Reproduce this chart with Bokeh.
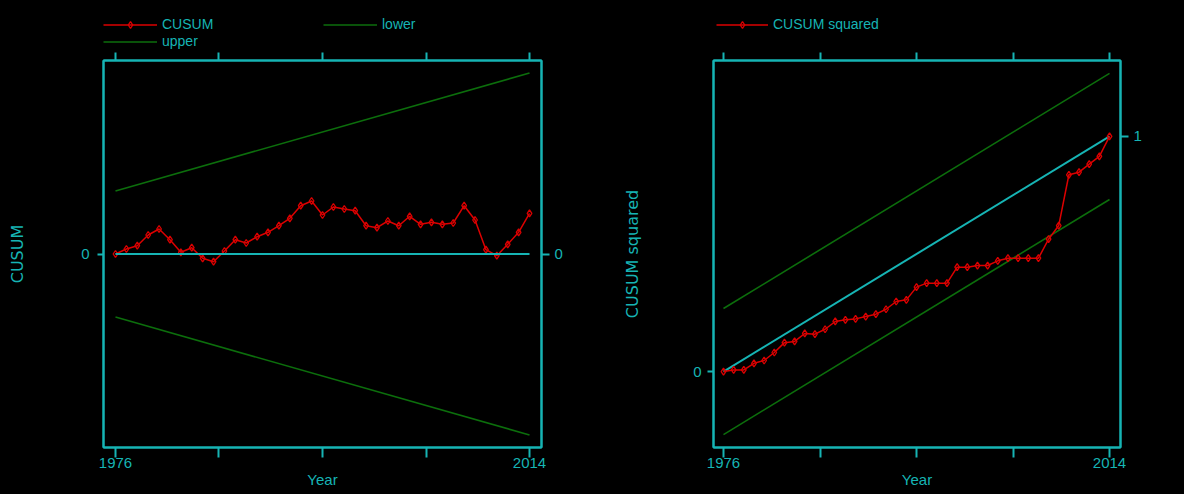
from bokeh.plotting import figure
from bokeh.models import Range1d, LinearAxis, FixedTicker, Legend, LegendItem
from bokeh.layouts import row, column
from bokeh.embed import file_html
from bokeh.resources import INLINE
from bokeh.core.properties import value

# ---------------- data ----------------
years = list(range(1976, 2015))
cusum = [0, 0.5, 0.83, 1.9, 2.5, 1.43, 0.17, 0.63, -0.43, -0.77, 0.3, 1.43, 1.1,
         1.73, 2.17, 2.83, 3.57, 4.83, 5.3, 3.9, 4.7, 4.5, 4.33, 2.83, 2.63, 3.3,
         2.83, 3.77, 2.97, 3.17, 2.97, 3.1, 4.83, 3.4, 0.43, -0.17, 0.97, 2.17, 4.07]
cusum_sq = [0, 0.007, 0.007, 0.035, 0.047, 0.081, 0.123, 0.128, 0.162, 0.159, 0.180,
            0.213, 0.220, 0.224, 0.234, 0.244, 0.265, 0.298, 0.305, 0.359, 0.376,
            0.376, 0.376, 0.444, 0.444, 0.451, 0.451, 0.471, 0.482, 0.482, 0.482,
            0.482, 0.563, 0.621, 0.837, 0.848, 0.882, 0.915, 1.0]
bound_years = [1976, 2014]
cusum_upper = [6.3, 18.1]
cusum_lower = [-6.3, -18.1]
cusum_zero = [0, 0]
sq_expected = [0, 1]
sq_upper = [0.268, 1.268]
sq_lower = [-0.268, 0.732]
x_labeled = [1976, 2014]
x_unlabeled = [1985.5, 1995, 2004.5]
x_all = [1976, 1985.5, 1995, 2004.5, 2014]

CYAN = "#16b4b4"
RED = "#dc0000"
GREEN = "#0c6e0c"
FONT = "Liberation Sans"
WIDE = "DejaVu Sans"
FH = 387
LEG_H = 50
TOP = 10
BOTTOM = 47
W1, W2 = 600, 584


def style_axis(ax, ticks, minor, tick_out, standoff):
    ax.ticker = FixedTicker(ticks=ticks, minor_ticks=minor)
    ax.axis_line_color = CYAN
    ax.axis_line_width = 2
    ax.major_tick_line_color = CYAN
    ax.major_tick_line_width = 2
    ax.major_tick_in = 0
    ax.major_tick_out = tick_out
    ax.minor_tick_line_color = CYAN
    ax.minor_tick_line_width = 2
    ax.minor_tick_in = 0
    ax.minor_tick_out = tick_out
    ax.major_label_text_color = CYAN
    ax.major_label_text_font = FONT
    ax.major_label_text_font_size = "15px"
    ax.major_label_standoff = standoff
    ax.axis_label_text_color = CYAN
    ax.axis_label_text_font_style = "normal"


def make_fig(fw, xr, yr, ml, mr):
    p = figure(frame_width=fw, frame_height=FH, x_range=Range1d(*xr), y_range=Range1d(*yr),
               output_backend="svg", toolbar_location=None,
               background_fill_color="black", border_fill_color="black",
               min_border_left=ml, min_border_right=mr, min_border_top=TOP,
               min_border_bottom=BOTTOM, outline_line_color=CYAN, outline_line_width=2)
    p.xgrid.grid_line_color = None
    p.ygrid.grid_line_color = None
    return p


def legend_fig(w):
    # a strip above each panel that only holds the legend; its ranges lie
    # outside the data, so the series drawn here only serve as legend keys
    f = figure(frame_width=w, frame_height=LEG_H, x_range=Range1d(0, 1), y_range=Range1d(0, 1),
               output_backend="svg", toolbar_location=None,
               x_axis_location=None, y_axis_location=None,
               background_fill_color="black", border_fill_color="black",
               min_border=0, outline_line_color=None)
    f.grid.grid_line_color = None
    return f


def make_legend(items, x, top_from_fig_top, glyph_w):
    n = len(items)
    return Legend(items=items, location=(x, LEG_H - top_from_fig_top - 17 * n),
                  orientation="vertical",
                  glyph_width=glyph_w, glyph_height=17, label_height=17, label_standoff=5,
                  padding=0, spacing=0, margin=0, border_line_color=None,
                  background_fill_alpha=0, label_text_color=CYAN,
                  label_text_font=FONT, label_text_font_size="14px",
                  label_text_baseline="middle")


def axes_xy(p):
    ax = p.xaxis[0]
    style_axis(ax, x_labeled, x_unlabeled, 10, 0)
    ax.axis_label = "Year"
    ax.axis_label_text_font = FONT
    ax.axis_label_text_font_size = "15px"
    ax.axis_label_standoff = 0
    top = LinearAxis()
    style_axis(top, [], x_all, 8, 0)
    p.add_layout(top, "above")


# ---------------- left panel: CUSUM ----------------
p1 = make_fig(438, (1974.9, 2015.1), (-19.35, 19.35), 103, 59)
p1.line(years, cusum, line_color=RED, line_width=1.5)
p1.scatter(years, cusum, marker="diamond", size=7, line_color=RED,
           fill_color=None, line_width=1.3)
p1.line(bound_years, cusum_lower, line_color=GREEN, line_width=1.6)
p1.line(bound_years, cusum_upper, line_color=GREEN, line_width=1.6)
p1.line(bound_years, cusum_zero, line_color=CYAN, line_width=2)

axes_xy(p1)
style_axis(p1.yaxis[0], [0], [], 6, 8)
p1.yaxis[0].axis_label = "CUSUM"
p1.yaxis[0].axis_label_text_font = WIDE
p1.yaxis[0].axis_label_text_font_size = "16px"
p1.yaxis[0].axis_label_standoff = 51
right1 = LinearAxis()
style_axis(right1, [0], [], 8, 5)
p1.add_layout(right1, "right")

lf1 = legend_fig(W1)
k_cu = lf1.line(years, cusum, line_color=RED, line_width=1.5)
k_cus = lf1.scatter(years, cusum, marker="diamond", size=7, line_color=RED,
                    fill_color=None, line_width=1.3)
k_low = lf1.line(bound_years, cusum_lower, line_color=GREEN, line_width=1.6)
k_up = lf1.line(bound_years, cusum_upper, line_color=GREEN, line_width=1.6)
lf1.add_layout(make_legend([LegendItem(label=value("CUSUM"), renderers=[k_cu, k_cus]),
                            LegendItem(label=value("upper"), renderers=[k_up])], 103, 15.5, 54))
lf1.add_layout(make_legend([LegendItem(label=value("lower"), renderers=[k_low])], 323, 15.5, 54))

# ---------------- right panel: CUSUM squared ----------------
p2 = make_fig(407, (1975.016, 2015.08), (-0.323, 1.323), 113, 64)
p2.line(bound_years, sq_upper, line_color=GREEN, line_width=1.6)
p2.line(bound_years, sq_lower, line_color=GREEN, line_width=1.6)
p2.line(bound_years, sq_expected, line_color=CYAN, line_width=2)
p2.line(years, cusum_sq, line_color=RED, line_width=1.5)
p2.scatter(years, cusum_sq, marker="diamond", size=7, line_color=RED,
           fill_color=None, line_width=1.3)

axes_xy(p2)
style_axis(p2.yaxis[0], [0], [], 6, 6)
p2.yaxis[0].axis_label = "CUSUM squared"
p2.yaxis[0].axis_label_text_font = WIDE
p2.yaxis[0].axis_label_text_font_size = "16px"
p2.yaxis[0].axis_label_standoff = 48
right2 = LinearAxis()
style_axis(right2, [1], [], 8, 5)
p2.add_layout(right2, "right")

lf2 = legend_fig(W2)
k_sq = lf2.line(years, cusum_sq, line_color=RED, line_width=1.5)
k_sqs = lf2.scatter(years, cusum_sq, marker="diamond", size=7, line_color=RED,
                    fill_color=None, line_width=1.3)
lf2.add_layout(make_legend([LegendItem(label=value("CUSUM squared"), renderers=[k_sq, k_sqs])],
                           116, 15.5, 52))

layout = row(column(lf1, p1, spacing=0), column(lf2, p2, spacing=0), spacing=0,
             styles={"background-color": "black"})
open("out.html", "w").write(file_html(layout, INLINE))
